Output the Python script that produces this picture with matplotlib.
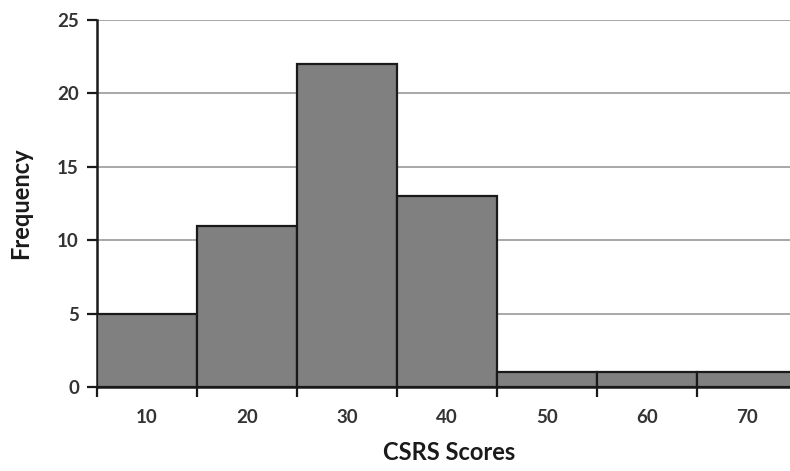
import matplotlib
matplotlib.use("Agg")
import matplotlib.pyplot as plt
import numpy as np

categories = ["10", "20", "30", "40", "50", "60", "70"]
frequency = [5, 11, 22, 13, 1, 1, 1]
y_ticks = [0, 5, 10, 15, 20, 25]

plt.rcParams['font.family'] = ['Lato', 'DejaVu Sans']

fig = plt.figure(figsize=(7.9, 4.71), dpi=100)
ax = fig.add_axes([97/790, 84/471, 700/790, 367/471])

x = np.arange(len(categories))
ax.bar(x, frequency, width=1.0, color="#808080", edgecolor="#1a1a1a", linewidth=1.6, zorder=3)

ax.set_xlim(-0.5, len(categories) - 0.5)
ax.set_ylim(0, 25)
ax.set_yticks(y_ticks)
ax.yaxis.grid(True, color="#a8a8a8", linewidth=1.4, zorder=0)

ax.set_xticks(np.arange(len(categories) + 1) - 0.5)
ax.set_xticklabels([])
ax.set_xticks(x, minor=True)
ax.set_xticklabels(categories, minor=True)
ax.tick_params(axis='x', which='minor', length=0, pad=16, labelsize=13.5)
ax.tick_params(axis='x', which='major', length=7, width=1.6, direction='out', color="#1a1a1a")
ax.tick_params(axis='y', length=7, width=1.6, direction='out', color="#1a1a1a", labelsize=13.5, pad=6)

for lbl in ax.get_xticklabels(minor=True) + ax.get_yticklabels():
    lbl.set_fontweight('bold')
    lbl.set_color('#333333')

for s in ['top', 'right']:
    ax.spines[s].set_visible(False)
for s in ['left', 'bottom']:
    ax.spines[s].set_linewidth(1.8)
    ax.spines[s].set_color('#1a1a1a')

ax.set_xlabel("CSRS Scores", fontsize=17, fontweight='bold', color='#1a1a1a')
ax.set_ylabel("Frequency", fontsize=17, fontweight='bold', color='#1a1a1a')
ax.xaxis.set_label_coords(449/790, 1 - 452/471, transform=fig.transFigure)
ax.yaxis.set_label_coords(21/790, 1 - 203/471, transform=fig.transFigure)
ax.xaxis.label.set_va('center')
ax.yaxis.label.set_va('center')

fig.savefig("out.png", dpi=100)
